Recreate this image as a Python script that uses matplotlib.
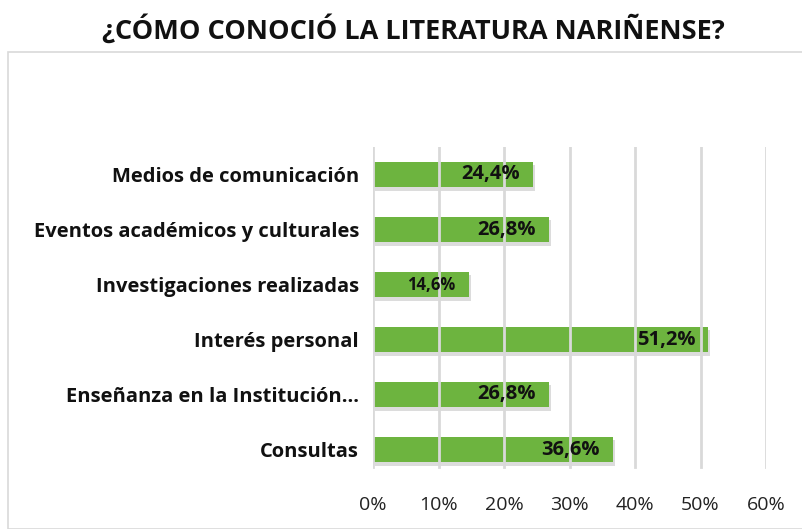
import matplotlib
matplotlib.use("Agg")
import matplotlib.pyplot as plt
import matplotlib.patheffects as pe
from matplotlib.patches import Rectangle

categories = ["Medios de comunicación", "Eventos académicos y culturales",
              "Investigaciones realizadas", "Interés personal",
              "Enseñanza en la Institución…", "Consultas"]
values = [24.4, 26.8, 14.6, 51.2, 26.8, 36.6]
labels = ["24,4%", "26,8%", "14,6%", "51,2%", "26,8%", "36,6%"]
xticks = [0, 10, 20, 30, 40, 50, 60]
xticklabels = ["0%", "10%", "20%", "30%", "40%", "50%", "60%"]

plt.rcParams['font.family'] = ['Open Sans', 'DejaVu Sans']

fig = plt.figure(figsize=(8.02, 5.29), dpi=100)
fig.patches.append(Rectangle((8/802, 0), 1, 1 - 52/529, transform=fig.transFigure,
                             fill=False, edgecolor='#d9d9d9', linewidth=1.2))
fig.text(413/802, 1 - 30/529, "¿CÓMO CONOCIÓ LA LITERATURA NARIÑENSE?",
         ha='center', va='center', fontsize=19.5, fontweight='bold', color='#111111')

ax = fig.add_axes([373/802, 1 - 477/529, (766 - 373)/802, (477 - 147)/529])
y = list(range(len(categories)))
bars = ax.barh(y, values, height=0.46, color='#6db43f', zorder=2,
               path_effects=[pe.SimplePatchShadow(offset=(1.5, -2.5), shadow_rgbFace='#777777', alpha=0.25),
                             pe.Normal()])
ax.set_ylim(len(categories) - 0.5, -0.5)
ax.set_xlim(0, 60)
ax.set_xticks(xticks)
ax.set_xticklabels(xticklabels, fontsize=14, color='#222222')
ax.set_yticks(y)
ax.set_yticklabels(categories, fontsize=14.5, fontweight='bold', color='#111111')
ax.tick_params(axis='both', length=0)
ax.tick_params(axis='x', pad=14)
ax.tick_params(axis='y', pad=10)
for s in ax.spines.values():
    s.set_visible(False)
for xt in xticks:
    ax.axvline(xt, color='#d9d9d9', linewidth=2, zorder=3, ymin=0.03, ymax=1)

for yi, v, lab in zip(y, values, labels):
    fs = 12 if v < 20 else 14.5
    ax.text(v - 2.0, yi, lab, ha='right', va='center', fontsize=fs,
            fontweight='bold', color='#111111', zorder=4)

fig.savefig("out.png", dpi=100)
